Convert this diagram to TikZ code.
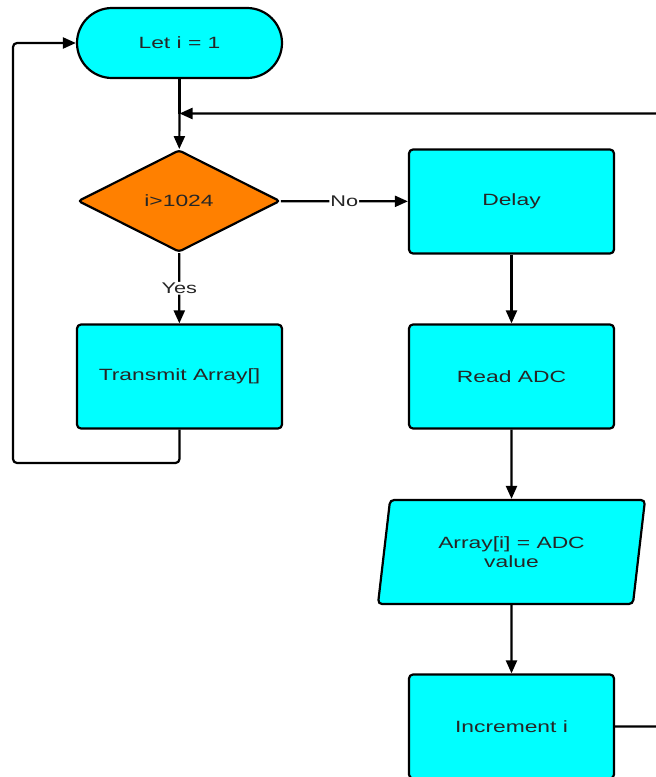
\documentclass[tikz,border=0pt]{standalone}
\usepackage{fontspec}
\newfontfamily\flowfont[FakeStretch=1.4]{Liberation Sans}
\usetikzlibrary{shapes.geometric, arrows.meta}

\definecolor{boxcyan}{HTML}{00FFFF}
\definecolor{decorange}{HTML}{FF8000}

\tikzset{
    flowbox/.style={draw, line width=2.2pt, fill=boxcyan, rounded corners=4pt,
        minimum width=205pt, minimum height=104pt, inner sep=0pt,
        font=\flowfont\fontsize{16.3}{19.5}\selectfont, text=black!85, align=center},
    flowterm/.style={flowbox, rounded corners=35pt, minimum height=70pt},
    flowdec/.style={flowbox, diamond, fill=decorange, rounded corners=3pt,
        minimum width=202pt, minimum height=102pt, aspect=2},
    flowio/.style={flowbox, trapezium, trapezium left angle=69, trapezium right angle=111,
        trapezium stretches body, minimum width=267pt, minimum height=104pt},
    flowline/.style={line width=2.2pt, rounded corners=4pt},
    flowarrow/.style={flowline, -{Triangle[length=13pt, width=11pt]}},
    flowlabel/.style={fill=white, inner sep=1pt, font=\flowfont\fontsize{15.5}{18}\selectfont, text=black!85}
}

\begin{document}
\begin{tikzpicture}[x=1pt, y=-1pt]

    \useasboundingbox (0,0) rectangle (656,777);
    \clip (0,0) rectangle (656,777);

    % Left column
    \node[flowterm] (start) at (179.5,43) {Let i = 1};
    \node[flowdec] (check) at (179,201) {i>1024};
    \node[flowbox] (transmit) at (179.5,376.5) {Transmit Array[]};

    % Right column
    \node[flowbox] (delay) at (511.5,201.5) {Delay};
    \node[flowbox] (readadc) at (511.5,376.5) {Read ADC};
    \node[flowio] (store) at (511.5,552) {Array[i] = ADC\\value};
    \node[flowbox] (incr) at (511.5,726.5) {Increment i};

    % Helper points
    \coordinate (join) at (179.5,113.5);
    \coordinate (loopbot) at (179.5,463);
    \coordinate (loopleft) at (13,463);
    \coordinate (backright) at (690,726.5);

    % Connectors
    \draw[flowline] (start) -- (join);
    \draw[flowarrow] (join) -- (check);
    \draw[flowarrow] (check) -- node[flowlabel] {No} (delay);
    \draw[flowarrow] (check) -- node[flowlabel] {Yes} (transmit);
    \draw[flowarrow] (delay) -- (readadc);
    \draw[flowarrow] (readadc) -- (store);
    \draw[flowarrow] (store) -- (incr);

    % Loops back
    \draw[flowarrow] (transmit.south) -- (loopbot) -- (loopleft) |- (start.west);
    \draw[flowarrow] (incr.east) -- (backright) |- (join);

\end{tikzpicture}
\end{document}
